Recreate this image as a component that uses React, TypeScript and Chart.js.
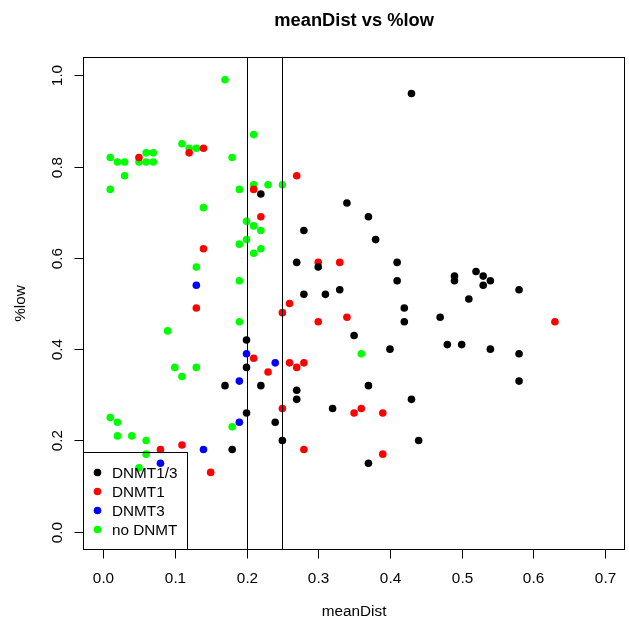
import React, { useEffect, useRef } from "react";
import { Chart, registerables } from "chart.js";

Chart.register(...registerables);

const titleText = "meanDist vs %low";
const xLabel = "meanDist";
const yLabel = "%low";

const groupNames = ["DNMT1/3", "DNMT1", "DNMT3", "no DNMT"];
const groupColors = ["#000000", "#FF0000", "#0000FF", "#00FF00"];

const dnmt13X = [0.43, 0.22, 0.34, 0.37, 0.28, 0.38, 0.27, 0.30, 0.41, 0.41, 0.33, 0.28, 0.31, 0.42, 0.42, 0.35, 0.20, 0.40, 0.20, 0.17, 0.22, 0.37, 0.27, 0.27, 0.43, 0.32, 0.20, 0.24, 0.25, 0.44, 0.18, 0.37, 0.49, 0.49, 0.52, 0.53, 0.54, 0.53, 0.58, 0.51, 0.47, 0.48, 0.50, 0.54, 0.58, 0.58];
const dnmt13Y = [0.96, 0.74, 0.72, 0.69, 0.66, 0.64, 0.59, 0.58, 0.59, 0.55, 0.53, 0.52, 0.52, 0.49, 0.46, 0.43, 0.42, 0.40, 0.36, 0.32, 0.32, 0.32, 0.31, 0.29, 0.29, 0.27, 0.26, 0.24, 0.20, 0.20, 0.18, 0.15, 0.56, 0.55, 0.57, 0.56, 0.55, 0.54, 0.53, 0.51, 0.47, 0.41, 0.41, 0.40, 0.39, 0.33];

const dnmt1X = [0.14, 0.12, 0.05, 0.27, 0.21, 0.22, 0.14, 0.30, 0.33, 0.26, 0.25, 0.13, 0.30, 0.34, 0.63, 0.21, 0.26, 0.28, 0.27, 0.23, 0.25, 0.36, 0.35, 0.39, 0.11, 0.08, 0.28, 0.39, 0.15];
const dnmt1Y = [0.84, 0.83, 0.82, 0.78, 0.75, 0.69, 0.62, 0.59, 0.59, 0.50, 0.48, 0.49, 0.46, 0.47, 0.46, 0.38, 0.37, 0.37, 0.36, 0.35, 0.27, 0.27, 0.26, 0.26, 0.19, 0.18, 0.18, 0.17, 0.13];

const dnmt3X = [0.13, 0.20, 0.24, 0.19, 0.19, 0.14, 0.08];
const dnmt3Y = [0.54, 0.39, 0.37, 0.33, 0.24, 0.18, 0.15];

const noDnmtX = [0.17, 0.21, 0.11, 0.12, 0.13, 0.06, 0.07, 0.01, 0.18, 0.02, 0.03, 0.05, 0.06, 0.07, 0.03, 0.21, 0.23, 0.25, 0.01, 0.19, 0.14, 0.20, 0.21, 0.22, 0.20, 0.19, 0.22, 0.21, 0.13, 0.19, 0.19, 0.09, 0.36, 0.10, 0.13, 0.11, 0.01, 0.02, 0.18, 0.02, 0.04, 0.06, 0.06, 0.05];
const noDnmtY = [0.99, 0.87, 0.85, 0.84, 0.84, 0.83, 0.83, 0.82, 0.82, 0.81, 0.81, 0.81, 0.81, 0.81, 0.78, 0.76, 0.76, 0.76, 0.75, 0.75, 0.71, 0.68, 0.67, 0.66, 0.64, 0.63, 0.62, 0.61, 0.58, 0.55, 0.46, 0.44, 0.39, 0.36, 0.36, 0.34, 0.25, 0.24, 0.23, 0.21, 0.21, 0.20, 0.17, 0.14];

const xTicks = [0, 0.1, 0.2, 0.3, 0.4, 0.5, 0.6, 0.7];
const yTicks = [0, 0.2, 0.4, 0.6, 0.8, 1.0];
const vLines = [0.2, 0.25];

const FONT = '"Liberation Sans", Arial, Helvetica, sans-serif';

function zip(xs: number[], ys: number[]) {
  return xs.map((x, i) => ({ x, y: ys[i] }));
}

const rPlot = {
  id: "rPlot",
  afterDatasetsDraw(chart: any) {
    const { ctx, chartArea: a, scales } = chart;
    const x = scales.x;
    ctx.save();
    ctx.strokeStyle = "#000";
    ctx.lineWidth = 1;
    vLines.forEach((v) => {
      const px = Math.round(x.getPixelForValue(v)) + 0.5;
      ctx.beginPath();
      ctx.moveTo(px, a.top);
      ctx.lineTo(px, a.bottom);
      ctx.stroke();
    });
    ctx.restore();
  },
  afterDraw(chart: any) {
    const { ctx, chartArea: a, scales } = chart;
    const x = scales.x;
    const y = scales.y;
    ctx.save();
    ctx.strokeStyle = "#000";
    ctx.fillStyle = "#000";
    ctx.lineWidth = 1;
    // box
    const l = Math.round(a.left) + 0.5;
    const t = Math.round(a.top) + 0.5;
    const r = Math.round(a.right) - 0.5;
    const b = Math.round(a.bottom) - 0.5;
    ctx.strokeRect(l, t, r - l, b - t);
    // x ticks
    ctx.font = "15.3px " + FONT;
    ctx.textAlign = "center";
    ctx.textBaseline = "alphabetic";
    xTicks.forEach((v) => {
      const px = Math.round(x.getPixelForValue(v)) + 0.5;
      ctx.beginPath();
      ctx.moveTo(px, b);
      ctx.lineTo(px, b + 9);
      ctx.stroke();
      ctx.fillText(v.toFixed(1), px, 582.5);
    });
    // y ticks
    yTicks.forEach((v) => {
      const py = Math.round(y.getPixelForValue(v)) + 0.5;
      ctx.beginPath();
      ctx.moveTo(l, py);
      ctx.lineTo(l - 9, py);
      ctx.stroke();
      ctx.save();
      ctx.translate(61.5, py);
      ctx.rotate(-Math.PI / 2);
      ctx.fillText(v.toFixed(1), 0, 0);
      ctx.restore();
    });
    // axis titles
    ctx.fillText(xLabel, (a.left + a.right) / 2, 616);
    ctx.save();
    ctx.translate(24.5, (a.top + a.bottom) / 2);
    ctx.rotate(-Math.PI / 2);
    ctx.fillText(yLabel, 0, 0);
    ctx.restore();
    // title
    ctx.font = "bold 18.3px " + FONT;
    ctx.fillText(titleText, (a.left + a.right) / 2, 26);
    // legend
    const lgTop = 452.5;
    ctx.strokeRect(l, lgTop, 104, b - lgTop);
    ctx.font = "15.3px " + FONT;
    ctx.textAlign = "left";
    groupNames.forEach((name, i) => {
      const cy = 472.5 + i * 19;
      ctx.beginPath();
      ctx.fillStyle = groupColors[i];
      ctx.arc(97.5, cy, 3.8, 0, Math.PI * 2);
      ctx.fill();
      ctx.fillStyle = "#000";
      ctx.fillText(name, 112, cy + 5.4);
    });
    ctx.restore();
  },
};

export default function App() {
  const ref = useRef<HTMLCanvasElement | null>(null);
  useEffect(() => {
    if (!ref.current) return;
    const series = [
      zip(dnmt13X, dnmt13Y),
      zip(dnmt1X, dnmt1Y),
      zip(dnmt3X, dnmt3Y),
      zip(noDnmtX, noDnmtY),
    ];
    const chart = new Chart(ref.current, {
      type: "scatter",
      data: {
        datasets: series.map((d, i) => ({
          label: groupNames[i],
          data: d,
          backgroundColor: groupColors[i],
          borderColor: groupColors[i],
          borderWidth: 0,
          pointRadius: 3.8,
          pointHoverRadius: 3.8,
        })),
      },
      options: {
        responsive: false,
        animation: false,
        devicePixelRatio: 1,
        layout: { padding: { left: 83, right: 1, top: 57, bottom: 74 } },
        plugins: { legend: { display: false }, tooltip: { enabled: false }, title: { display: false } },
        scales: {
          x: { type: "linear", min: -0.028, max: 0.728, display: false },
          y: { type: "linear", min: -0.04, max: 1.04, display: false },
        },
      },
      plugins: [rPlot],
    });
    return () => chart.destroy();
  }, []);
  return (
    <canvas
      ref={ref}
      width={629}
      height={624}
      style={{ position: "absolute", left: 0, top: 0, width: 629, height: 624, background: "#fff" }}
    />
  );
}
